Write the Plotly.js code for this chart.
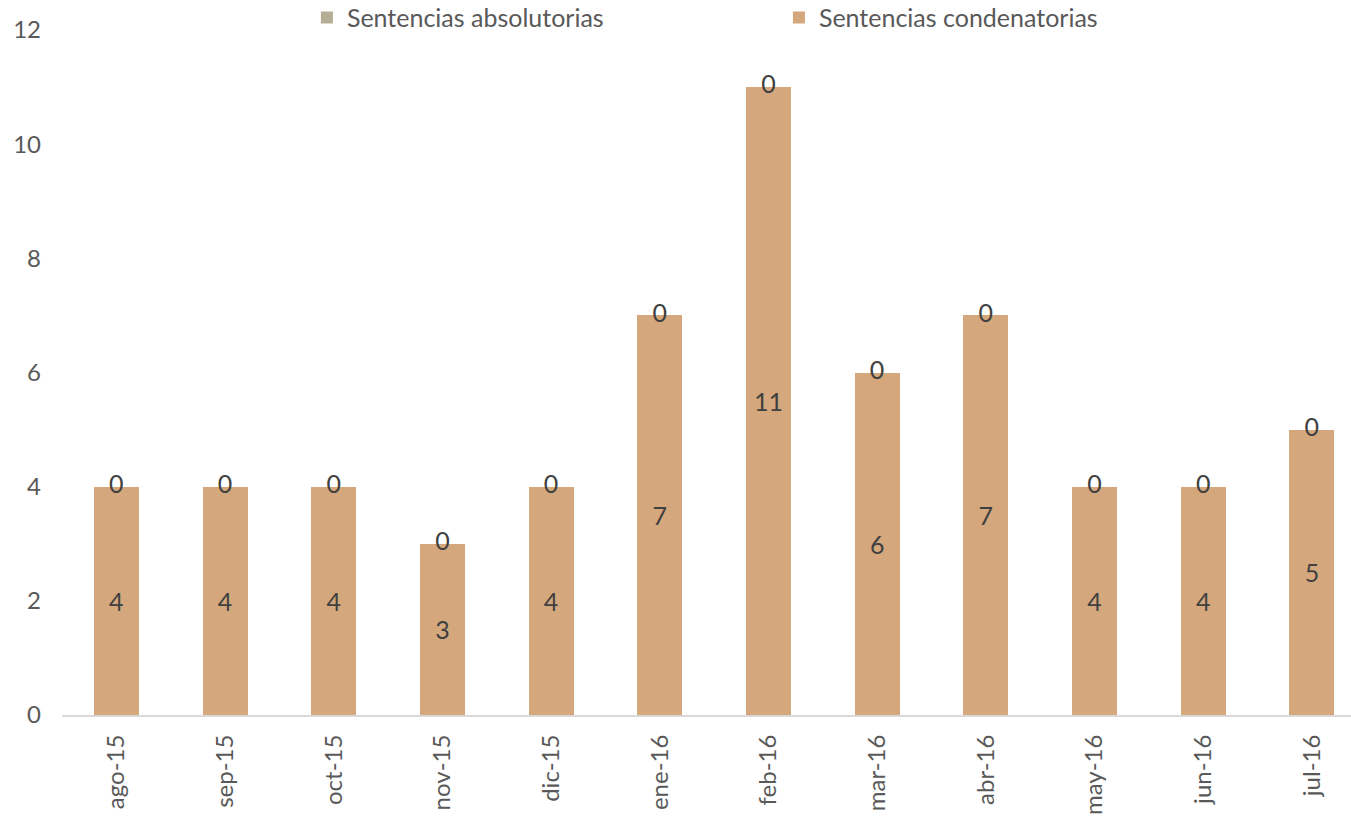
<!DOCTYPE html>
<html>
<head>
<meta charset="utf-8">
<script src="https://cdn.plot.ly/plotly-3.0.1.min.js"></script>
<style>html,body{margin:0;padding:0;background:#fff;}#chart{width:1351px;height:819px;}</style>
</head>
<body>
<div id="chart"></div>
<script>
const months = ["ago-15","sep-15","oct-15","nov-15","dic-15","ene-16","feb-16","mar-16","abr-16","may-16","jun-16","jul-16"];
const condenatorias = [4,4,4,3,4,7,11,6,7,4,4,5];
const absolutorias = [0,0,0,0,0,0,0,0,0,0,0,0];

const FONT = "Lato, 'DejaVu Sans', sans-serif";
const totals = condenatorias.map((v,i)=>v+absolutorias[i]);

const traces = [
  {
    type: 'bar', name: 'Sentencias condenatorias', x: months, y: condenatorias,
    marker: {color: '#D4A87C'}, width: 0.414,
    text: condenatorias.map(String), textposition: 'inside', insidetextanchor: 'middle',
    textfont: {family: FONT, size: 25, color: '#404040'}, textangle: 0,
    hoverinfo: 'x+y'
  },
  {
    type: 'bar', name: 'Sentencias absolutorias', x: months, y: absolutorias,
    marker: {color: '#B5AE94'}, width: 0.414, textposition: 'none'
  },
  {
    type: 'scatter', mode: 'text', x: months, y: totals, showlegend: false,
    text: absolutorias.map(String), textposition: 'middle center',
    textfont: {family: FONT, size: 25, color: '#404040'}, hoverinfo: 'skip'
  }
];

const layout = {
  width: 1351, height: 819,
  margin: {l: 62, r: 0, t: 30, b: 104, autoexpand: false},
  paper_bgcolor: '#fff', plot_bgcolor: '#fff',
  barmode: 'stack',
  font: {family: FONT, color: '#595959'},
  xaxis: {
    type: 'category', range: [-0.5, 11.36], tickangle: -90,
    tickfont: {family: FONT, size: 24, color: '#595959'}, ticklabelstandoff: 8,
    showline: true, linecolor: '#D9D9D9', linewidth: 2, ticks: '', showgrid: false,
    fixedrange: true
  },
  yaxis: {
    range: [0, 12], dtick: 2, showgrid: false, zeroline: false, showline: false,
    tickfont: {family: FONT, size: 24, color: '#595959'}, ticklabelstandoff: 20,
    fixedrange: true
  },
  legend: {
    orientation: 'h', traceorder: 'reversed', x: 0.19, xanchor: 'left', y: 1.018, yanchor: 'middle',
    font: {family: FONT, size: 25, color: '#595959'}, entrywidth: 427, entrywidthmode: 'pixels',
    bgcolor: 'rgba(0,0,0,0)'
  },
  showlegend: true
};

Plotly.newPlot('chart', traces, layout, {displayModeBar: false, staticPlot: true});
</script>
</body>
</html>
